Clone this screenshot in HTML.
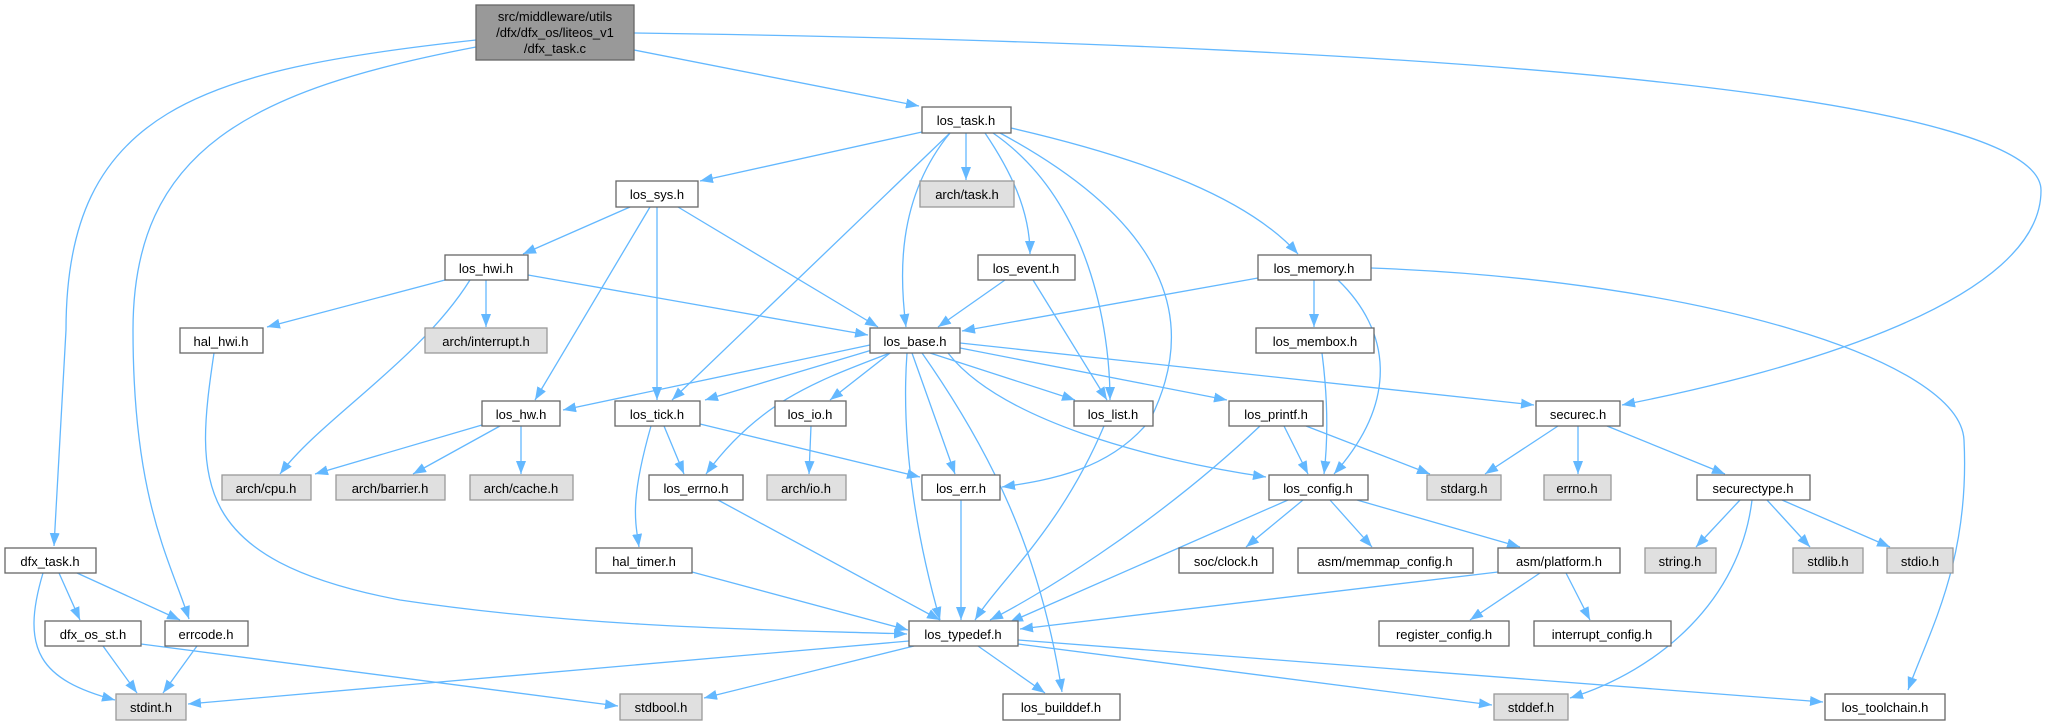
<!DOCTYPE html>
<html><head><meta charset="utf-8"><style>
html,body{margin:0;padding:0;background:#fff;}
svg{display:block;}
text{font-family:"Liberation Sans",sans-serif;font-size:13px;fill:#000;text-anchor:middle;}
.n{fill:#fff;stroke:#666;stroke-width:1.3;}
.g{fill:#e0e0e0;stroke:#999;stroke-width:1.3;}
.e{fill:none;stroke:#63b8ff;stroke-width:1.3;marker-end:url(#a);}
</style></head><body>
<svg width="2047" height="725" viewBox="0 0 2047 725" xmlns="http://www.w3.org/2000/svg">
<defs><marker id="a" markerUnits="userSpaceOnUse" markerWidth="14" markerHeight="10" refX="13" refY="5" orient="auto"><path d="M0,0 L13,5 L0,10 z" fill="#63b8ff"/></marker></defs>
<g>
<path class="e" d="M634,50 L919,106"/>
<path class="e" d="M634,33 C1500,45 2040,100 2041,190 C2042,300 1800,370 1622,405"/>
<path class="e" d="M476,40 C200,70 66,110 66,330 L54,546"/>
<path class="e" d="M476,47 C250,90 133,150 133,330 C133,500 170,560 189,619"/>
<path class="e" d="M922,132 L700,181"/>
<path class="e" d="M966,133 L966,180"/>
<path class="e" d="M950,133 C895,200 900,280 906,327"/>
<path class="e" d="M950,133 L672,400"/>
<path class="e" d="M985,133 C1010,170 1030,210 1030,254"/>
<path class="e" d="M993,133 C1090,200 1110,330 1110,400"/>
<path class="e" d="M1000,133 C1180,230 1195,330 1150,420 C1110,470 1050,480 1002,487"/>
<path class="e" d="M1011,128 C1150,160 1250,200 1298,254"/>
<path class="e" d="M630,207 L523,254"/>
<path class="e" d="M650,207 L535,400"/>
<path class="e" d="M657,207 L657,400"/>
<path class="e" d="M678,207 L878,327"/>
<path class="e" d="M445,280 L267,327"/>
<path class="e" d="M486,280 L486,327"/>
<path class="e" d="M470,280 C420,360 320,420 280,474"/>
<path class="e" d="M528,275 L868,335"/>
<path class="e" d="M214,353 C195,480 190,560 400,600 C600,630 800,630 907,634"/>
<path class="e" d="M1005,280 L938,327"/>
<path class="e" d="M1033,280 L1107,400"/>
<path class="e" d="M1258,278 L962,331"/>
<path class="e" d="M1314,280 L1314,327"/>
<path class="e" d="M1338,280 C1390,330 1400,400 1334,474"/>
<path class="e" d="M1371,268 C1700,280 1960,360 1964,440 C1970,560 1930,630 1908,690"/>
<path class="e" d="M1322,353 C1328,400 1328,440 1324,474"/>
<path class="e" d="M870,345 L563,410"/>
<path class="e" d="M872,350 L705,400"/>
<path class="e" d="M890,353 C820,380 760,400 706,474"/>
<path class="e" d="M890,353 L830,400"/>
<path class="e" d="M930,353 L1075,400"/>
<path class="e" d="M912,353 L955,474"/>
<path class="e" d="M907,353 C900,450 920,550 940,620"/>
<path class="e" d="M922,353 C990,450 1040,550 1062,692"/>
<path class="e" d="M960,348 L1227,400"/>
<path class="e" d="M948,353 C1000,420 1150,460 1266,477"/>
<path class="e" d="M960,343 L1534,405"/>
<path class="e" d="M482,425 L315,474"/>
<path class="e" d="M500,426 L413,474"/>
<path class="e" d="M521,426 L521,474"/>
<path class="e" d="M664,426 L684,474"/>
<path class="e" d="M651,426 C630,500 635,520 639,547"/>
<path class="e" d="M700,424 L920,477"/>
<path class="e" d="M811,426 L809,474"/>
<path class="e" d="M718,500 L940,620"/>
<path class="e" d="M961,500 L961,620"/>
<path class="e" d="M1104,426 C1060,530 1000,580 975,620"/>
<path class="e" d="M1284,426 L1308,474"/>
<path class="e" d="M1306,426 L1430,474"/>
<path class="e" d="M1260,426 C1150,530 1030,600 990,620"/>
<path class="e" d="M1558,426 L1485,474"/>
<path class="e" d="M1578,426 L1578,474"/>
<path class="e" d="M1607,426 L1725,474"/>
<path class="e" d="M1288,500 C1150,560 1060,600 1010,622"/>
<path class="e" d="M1303,500 L1246,547"/>
<path class="e" d="M1330,500 L1372,547"/>
<path class="e" d="M1357,500 L1520,547"/>
<path class="e" d="M1740,500 L1696,547"/>
<path class="e" d="M1767,500 L1810,547"/>
<path class="e" d="M1782,500 L1890,547"/>
<path class="e" d="M1752,500 C1740,600 1660,670 1570,698"/>
<path class="e" d="M1498,572 L1020,629"/>
<path class="e" d="M1540,573 L1470,620"/>
<path class="e" d="M1566,573 L1590,620"/>
<path class="e" d="M692,572 L908,630"/>
<path class="e" d="M59,573 L80,620"/>
<path class="e" d="M77,573 L180,620"/>
<path class="e" d="M43,573 C20,650 40,680 115,700"/>
<path class="e" d="M103,646 L137,693"/>
<path class="e" d="M141,644 L618,706"/>
<path class="e" d="M197,646 L163,693"/>
<path class="e" d="M909,641 L188,704"/>
<path class="e" d="M914,646 L704,698"/>
<path class="e" d="M978,646 L1045,693"/>
<path class="e" d="M1018,644 L1492,705"/>
<path class="e" d="M1018,640 L1823,702"/>
</g>
<g>
<rect x="476" y="5" width="158" height="55" fill="#999" stroke="#666" stroke-width="1.3"/>
<text x="555" y="21">src/middleware/utils</text><text x="555" y="37">/dfx/dfx_os/liteos_v1</text><text x="555" y="53">/dfx_task.c</text>
<rect class="n" x="922" y="107" width="89" height="26"/><text x="966" y="125">los_task.h</text>
<rect class="n" x="616" y="181" width="82" height="26"/><text x="657" y="199">los_sys.h</text>
<rect class="g" x="920" y="181" width="94" height="26"/><text x="967" y="199">arch/task.h</text>
<rect class="n" x="445" y="255" width="83" height="25"/><text x="486" y="273">los_hwi.h</text>
<rect class="n" x="978" y="255" width="97" height="25"/><text x="1026" y="273">los_event.h</text>
<rect class="n" x="1258" y="255" width="113" height="25"/><text x="1314" y="273">los_memory.h</text>
<rect class="n" x="180" y="328" width="83" height="25"/><text x="221" y="346">hal_hwi.h</text>
<rect class="g" x="425" y="328" width="122" height="25"/><text x="486" y="346">arch/interrupt.h</text>
<rect class="n" x="870" y="328" width="90" height="25"/><text x="915" y="346">los_base.h</text>
<rect class="n" x="1256" y="328" width="118" height="25"/><text x="1315" y="346">los_membox.h</text>
<rect class="n" x="482" y="401" width="78" height="25"/><text x="521" y="419">los_hw.h</text>
<rect class="n" x="615" y="401" width="85" height="25"/><text x="657" y="419">los_tick.h</text>
<rect class="n" x="775" y="401" width="71" height="25"/><text x="810" y="419">los_io.h</text>
<rect class="n" x="1074" y="401" width="79" height="25"/><text x="1113" y="419">los_list.h</text>
<rect class="n" x="1229" y="401" width="94" height="25"/><text x="1276" y="419">los_printf.h</text>
<rect class="n" x="1536" y="401" width="84" height="25"/><text x="1578" y="419">securec.h</text>
<rect class="g" x="222" y="475" width="89" height="25"/><text x="266" y="493">arch/cpu.h</text>
<rect class="g" x="336" y="475" width="109" height="25"/><text x="390" y="493">arch/barrier.h</text>
<rect class="g" x="470" y="475" width="103" height="25"/><text x="521" y="493">arch/cache.h</text>
<rect class="n" x="649" y="475" width="94" height="25"/><text x="696" y="493">los_errno.h</text>
<rect class="g" x="767" y="475" width="79" height="25"/><text x="806" y="493">arch/io.h</text>
<rect class="n" x="922" y="475" width="78" height="25"/><text x="961" y="493">los_err.h</text>
<rect class="n" x="1269" y="475" width="99" height="25"/><text x="1318" y="493">los_config.h</text>
<rect class="g" x="1427" y="475" width="74" height="25"/><text x="1464" y="493">stdarg.h</text>
<rect class="g" x="1544" y="475" width="67" height="25"/><text x="1577" y="493">errno.h</text>
<rect class="n" x="1697" y="475" width="113" height="25"/><text x="1753" y="493">securectype.h</text>
<rect class="n" x="5" y="548" width="91" height="25"/><text x="50" y="566">dfx_task.h</text>
<rect class="n" x="596" y="548" width="96" height="25"/><text x="644" y="566">hal_timer.h</text>
<rect class="n" x="1179" y="548" width="94" height="25"/><text x="1226" y="566">soc/clock.h</text>
<rect class="n" x="1298" y="548" width="175" height="25"/><text x="1385" y="566">asm/memmap_config.h</text>
<rect class="n" x="1498" y="548" width="122" height="25"/><text x="1559" y="566">asm/platform.h</text>
<rect class="g" x="1645" y="548" width="71" height="25"/><text x="1680" y="566">string.h</text>
<rect class="g" x="1793" y="548" width="70" height="25"/><text x="1828" y="566">stdlib.h</text>
<rect class="g" x="1887" y="548" width="66" height="25"/><text x="1920" y="566">stdio.h</text>
<rect class="n" x="45" y="621" width="96" height="25"/><text x="93" y="639">dfx_os_st.h</text>
<rect class="n" x="165" y="621" width="83" height="25"/><text x="206" y="639">errcode.h</text>
<rect class="n" x="909" y="621" width="109" height="25"/><text x="963" y="639">los_typedef.h</text>
<rect class="n" x="1379" y="621" width="130" height="25"/><text x="1444" y="639">register_config.h</text>
<rect class="n" x="1534" y="621" width="137" height="25"/><text x="1602" y="639">interrupt_config.h</text>
<rect class="g" x="116" y="694" width="70" height="26"/><text x="151" y="712">stdint.h</text>
<rect class="g" x="620" y="694" width="82" height="26"/><text x="661" y="712">stdbool.h</text>
<rect class="n" x="1003" y="694" width="117" height="26"/><text x="1061" y="712">los_builddef.h</text>
<rect class="g" x="1494" y="694" width="74" height="26"/><text x="1531" y="712">stddef.h</text>
<rect class="n" x="1825" y="694" width="120" height="26"/><text x="1885" y="712">los_toolchain.h</text>
</g>
</svg>
</body></html>
